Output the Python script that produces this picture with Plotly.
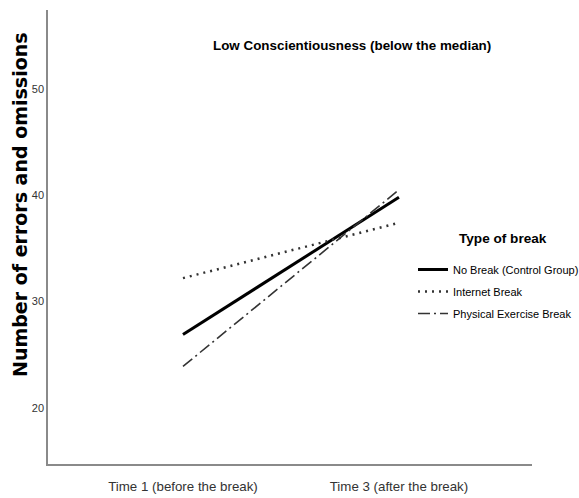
import plotly.graph_objects as go

categories = ["Time 1 (before the break)", "Time 3 (after the break)"]
no_break = [26.9, 39.8]
internet_break = [32.2, 37.4]
exercise_break = [23.9, 40.5]
series_names = ["No Break (Control Group)", "Internet Break", "Physical Exercise Break"]
y_ticks = [20, 30, 40, 50]

SANS = "Liberation Sans, Arial, sans-serif"
WIDE = "DejaVu Sans, Verdana, sans-serif"

fig = go.Figure()
fig.add_trace(go.Scatter(x=categories, y=no_break, mode="lines", name=series_names[0], legendgroup="a",
                         line=dict(color="black", width=3, dash="solid")))
fig.add_trace(go.Scatter(x=categories, y=internet_break, mode="lines", name=series_names[1], legendgroup="b",
                         line=dict(color="#333333", width=2.5, dash="2px,5px")))
fig.add_trace(go.Scatter(x=categories, y=exercise_break, mode="lines", name=series_names[2], legendgroup="c",
                         line=dict(color="#333333", width=1.6, dash="12px,4px,2px,4px")))

fig.update_layout(
    width=579, height=498,
    margin=dict(l=48, r=47, t=10, b=34, autoexpand=False),
    paper_bgcolor="white", plot_bgcolor="white",
    showlegend=True,
    legend=dict(
        xref="container", yref="container",
        x=413 / 579, y=1 - 255 / 498, xanchor="left", yanchor="top",
        font=dict(family=SANS, size=11, color="black"),
        itemwidth=30, tracegroupgap=3, bgcolor="rgba(0,0,0,0)",
    ),
    annotations=[
        dict(text="<b>Low Conscientiousness (below the median)</b>", x=(352 - 48) / 484, y=(464 - 45) / 454,
             xref="paper", yref="paper", showarrow=False, xanchor="center", yanchor="middle",
             font=dict(family=SANS, size=13.4, color="black")),
        dict(text="<b>Type of break</b>", x=(503 - 48) / 484, y=(464 - 238) / 454,
             xref="paper", yref="paper", showarrow=False, xanchor="center", yanchor="middle",
             font=dict(family=SANS, size=13.6, color="black")),
        dict(text="<b>Number of errors and omissions</b>", x=(20 - 48) / 484, y=(464 - 205) / 454,
             xref="paper", yref="paper", showarrow=False, textangle=-90,
             xanchor="center", yanchor="middle",
             font=dict(family=WIDE, size=19, color="black")),
    ],
)

fig.update_xaxes(
    type="category", range=[-0.625, 1.616], automargin=False,
    showline=True, linecolor="#8a8a8a", linewidth=1.5,
    showgrid=False, zeroline=False,
    ticks="outside", ticklen=9, tickcolor="rgba(0,0,0,0)",
    tickfont=dict(family=SANS, size=13.3, color="#333333"),
)
fig.update_yaxes(
    range=[14.73, 57.4], tickvals=y_ticks, automargin=False,
    showline=True, linecolor="#8a8a8a", linewidth=1.5,
    showgrid=False, zeroline=False,
    ticks="",
    tickfont=dict(family=SANS, size=11, color="#333333"),
)

fig.write_html("out.html", config={"displayModeBar": False},
               post_script="document.body.style.margin='0';document.body.style.padding='0';")
